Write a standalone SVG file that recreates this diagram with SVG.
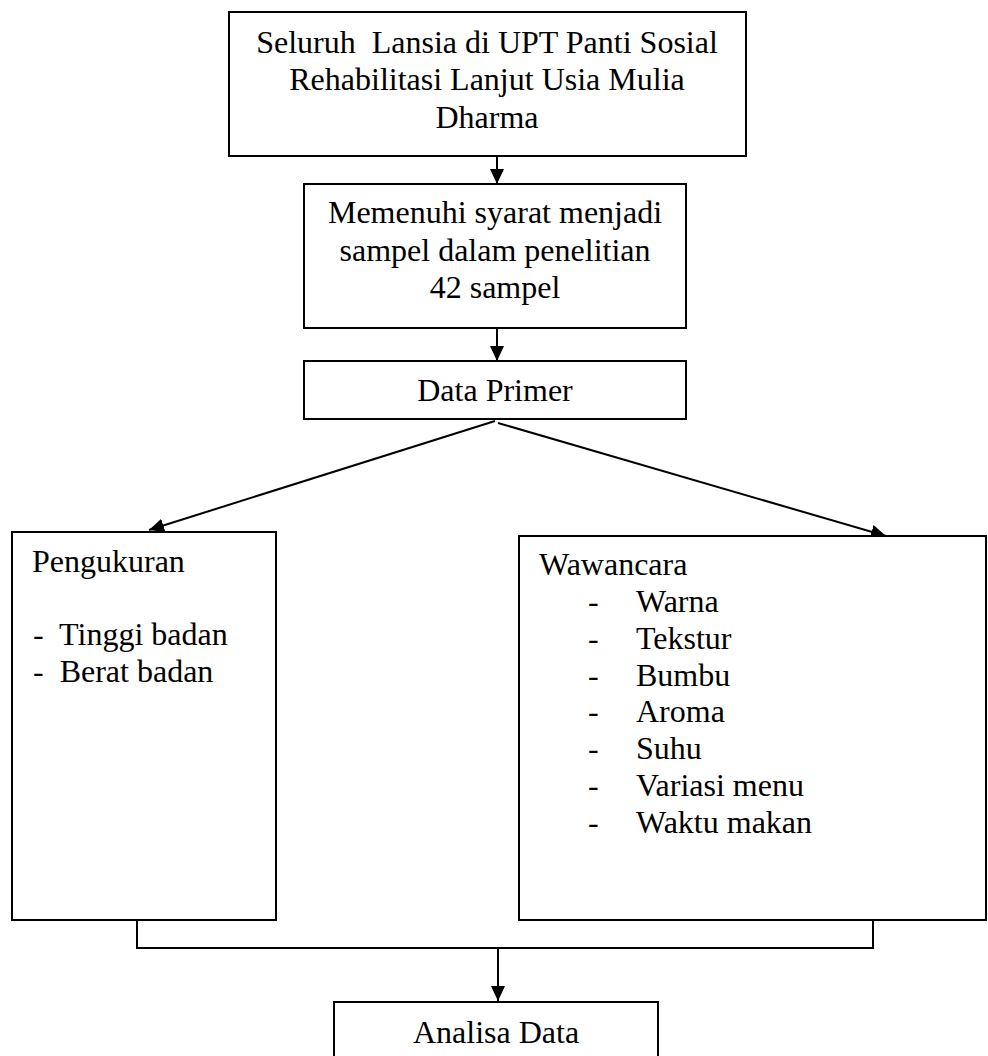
<svg xmlns="http://www.w3.org/2000/svg" width="988" height="1056" viewBox="0 0 988 1056">
<style>
.box{fill:#fff;stroke:#000;stroke-width:2}
.t{font-family:"Liberation Serif","Times New Roman",serif;font-size:32px;fill:#000}
.c{text-anchor:middle}
.ln{fill:none;stroke:#000;stroke-width:2}
</style>
<defs>
<marker id="ah" viewBox="0 0 15 14" refX="15" refY="7" markerWidth="15" markerHeight="14" markerUnits="userSpaceOnUse" orient="auto">
<path d="M0,0 L15,7 L0,14 Z" fill="#000"/>
</marker>
</defs>
<rect width="988" height="1056" fill="#fff"/>
<g id="connectors">
<line class="ln" x1="497" y1="156" x2="497" y2="184" marker-end="url(#ah)"/>
<line class="ln" x1="497" y1="328" x2="497" y2="361" marker-end="url(#ah)"/>
<line class="ln" x1="495" y1="421" x2="149" y2="530" marker-end="url(#ah)"/>
<line class="ln" x1="498" y1="423" x2="886" y2="536" marker-end="url(#ah)"/>
<path class="ln" d="M137,920 V948 H873 V920"/>
<line class="ln" x1="498" y1="948" x2="498" y2="1001" marker-end="url(#ah)"/>
</g>
<g id="n1">
<rect class="box" x="229" y="12" width="517" height="144"/>
<text class="t c" x="487" y="53" xml:space="preserve">Seluruh  Lansia di UPT Panti Sosial</text>
<text class="t c" x="487" y="90">Rehabilitasi Lanjut Usia Mulia</text>
<text class="t c" x="487" y="128">Dharma</text>
</g>
<g id="n2">
<rect class="box" x="304" y="184" width="382" height="144"/>
<text class="t c" x="495" y="223">Memenuhi syarat menjadi</text>
<text class="t c" x="495" y="261">sampel dalam penelitian</text>
<text class="t c" x="495" y="298">42 sampel</text>
</g>
<g id="n3">
<rect class="box" x="304" y="361" width="382" height="58"/>
<text class="t c" x="495" y="401">Data Primer</text>
</g>
<g id="n4">
<rect class="box" x="12" y="532" width="264" height="388"/>
<text class="t" x="32" y="572">Pengukuran</text>
<text class="t" x="33" y="645" xml:space="preserve">-  Tinggi badan</text>
<text class="t" x="33" y="682" xml:space="preserve">-  Berat badan</text>
</g>
<g id="n5">
<rect class="box" x="519" y="536" width="467" height="384"/>
<text class="t" x="539" y="575">Wawancara</text>
<g class="t">
<text x="588" y="612">-</text><text x="636" y="612">Warna</text>
<text x="588" y="649">-</text><text x="636" y="649">Tekstur</text>
<text x="588" y="686">-</text><text x="636" y="686">Bumbu</text>
<text x="588" y="722">-</text><text x="636" y="722">Aroma</text>
<text x="588" y="759">-</text><text x="636" y="759">Suhu</text>
<text x="588" y="796">-</text><text x="636" y="796">Variasi menu</text>
<text x="588" y="833">-</text><text x="636" y="833">Waktu makan</text>
</g>
</g>
<g id="n6">
<rect class="box" x="334" y="1002" width="324" height="70"/>
<text class="t c" x="496" y="1043">Analisa Data</text>
</g>
</svg>
